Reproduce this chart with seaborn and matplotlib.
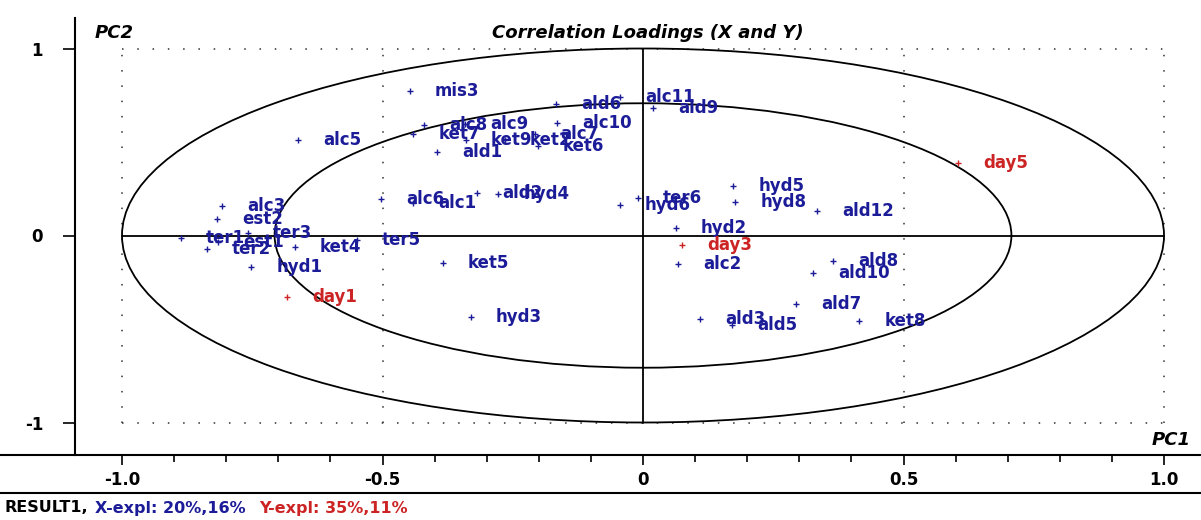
import matplotlib
matplotlib.use("Agg")
import matplotlib.pyplot as plt
from matplotlib.patches import Ellipse
from matplotlib.lines import Line2D
from matplotlib.ticker import FixedLocator, MultipleLocator
import numpy as np
import pandas as pd
import seaborn as sns

# Correlation loadings on PC1 / PC2
names = ["mis3", "alc5", "ket7", "alc8", "alc9", "ald1", "ket9", "ket2", "alc7", "ket6",
         "ald6", "alc10", "alc11", "ald9", "alc6", "alc1", "ald2", "hyd4", "hyd6", "ter6",
         "hyd5", "hyd8", "ald12", "hyd2", "day3", "day5", "alc2", "ald8", "ald10", "ald7",
         "ket8", "ald3", "ald5", "ket5", "hyd3", "ter5", "ket4", "day1", "hyd1", "alc3",
         "est2", "ter1", "est1", "ter2", "ter3"]
pc1 = [-0.447, -0.662, -0.441, -0.420, -0.342, -0.395, -0.340, -0.265, -0.207, -0.202,
       -0.167, -0.165, -0.044, 0.019, -0.503, -0.441, -0.319, -0.278, -0.044, -0.010,
       0.173, 0.177, 0.334, 0.063, 0.075, 0.605, 0.067, 0.365, 0.326, 0.294,
       0.415, 0.109, 0.171, -0.384, -0.330, -0.549, -0.668, -0.683, -0.752, -0.808,
       -0.818, -0.887, -0.816, -0.837, -0.758]
pc2 = [0.773, 0.511, 0.543, 0.591, 0.596, 0.447, 0.511, 0.511, 0.543, 0.479,
       0.703, 0.602, 0.741, 0.682, 0.195, 0.174, 0.227, 0.222, 0.163, 0.200,
       0.265, 0.179, 0.131, 0.040, -0.051, 0.388, -0.152, -0.136, -0.201, -0.366,
       -0.457, -0.447, -0.479, -0.147, -0.436, -0.024, -0.061, -0.329, -0.168, 0.158,
       0.088, -0.013, -0.035, -0.072, 0.013]
y_vars = ["day1", "day3", "day5"]

x_ticks = [-1.0, -0.5, 0.0, 0.5, 1.0]
x_tick_labels = ["-1.0", "-0.5", "0", "0.5", "1.0"]
y_ticks = [-1, 0, 1]
y_tick_labels = ["-1", "0", "1"]

footer_parts = ["RESULT1,", "X-expl: 20%,16%", "Y-expl: 35%,11%"]

df = pd.DataFrame({"name": names, "PC1": pc1, "PC2": pc2})
df["block"] = np.where(df["name"].isin(y_vars), "Y", "X")

BLUE = "#1c1c98"
RED = "#cc2424"
palette = {"X": BLUE, "Y": RED}

sns.set_theme(style="white")
plt.rcParams["font.family"] = ["DejaVu Sans"]

W, H = 1201, 520
fig = plt.figure(figsize=(W / 100, H / 100), dpi=100)
fig.patch.set_facecolor("white")

left, right, top, bottom = 75, 1201, 18, 455
ax = fig.add_axes([left / W, 1 - bottom / H, (right - left) / W, (bottom - top) / H])
ax.set_facecolor("white")

# pixel-matched data ranges
x0, sx = 643.0, 521.0
y0, sy = 235.5, 187.0
ax.set_xlim((left - x0) / sx, (right - x0) / sx)
ax.set_ylim((y0 - bottom) / sy, (y0 - top) / sy)

# dotted frame and grid
dot = dict(color="#303030", lw=1.1, linestyle=(0, (1, 9)), zorder=1)
for gx in [-1.0, -0.5, 0.5, 1.0]:
    ax.plot([gx, gx], [-1, 1], **dot)
for gy in [-1.0, 1.0]:
    ax.plot([-1, 1], [gy, gy], **dot)

# solid axes through origin
ax.plot([-1, 1], [0, 0], color="black", lw=1.3, zorder=2)
ax.plot([0, 0], [-1, 1], color="black", lw=1.3, zorder=2)

# 100% and 50% explained variance ellipses
for r in [1.0, np.sqrt(0.5)]:
    ax.add_patch(Ellipse((0, 0), 2 * r, 2 * r, fill=False, ec="black", lw=1.3, zorder=2))

sns.scatterplot(data=df, x="PC1", y="PC2", hue="block", palette=palette, marker="+",
                s=20, linewidth=1.0, legend=False, ax=ax, zorder=3)

for _, row in df.iterrows():
    ax.annotate(row["name"], (row["PC1"], row["PC2"]), xytext=(18, 0),
                textcoords="offset points", ha="left", va="center",
                fontsize=12, fontweight="bold", color=palette[row["block"]], zorder=4)

# axes styling
for s in ["top", "right", "bottom"]:
    ax.spines[s].set_visible(False)
ax.spines["left"].set_color("black")
ax.spines["left"].set_linewidth(1.5)
ax.set_xlabel("")
ax.set_ylabel("")
ax.xaxis.set_major_locator(FixedLocator(x_ticks))
ax.set_xticklabels(x_tick_labels)
ax.xaxis.set_minor_locator(MultipleLocator(0.1))
ax.yaxis.set_major_locator(FixedLocator(y_ticks))
ax.set_yticklabels(y_tick_labels)
ax.tick_params(axis="x", which="major", direction="out", length=7.5, width=1.2,
               pad=4, labelsize=12, bottom=True, colors="black")
ax.tick_params(axis="x", which="minor", direction="out", length=5, width=1.2, bottom=True,
               colors="black")
ax.tick_params(axis="y", which="major", direction="out", length=9, width=1.2,
               pad=14, labelsize=12, left=True, colors="black")
for lbl in ax.get_xticklabels() + ax.get_yticklabels():
    lbl.set_fontweight("bold")
ax.grid(False)

# titles inside the frame
ax.text((648 - x0) / sx, (y0 - 33) / sy, "Correlation Loadings (X and Y)",
        ha="center", va="center", fontsize=13, fontweight="bold", fontstyle="italic",
        color="black")
fig.text(95 / W, 1 - 33 / H, "PC2", ha="left", va="center", fontsize=13,
         fontweight="bold", fontstyle="italic", color="black")
fig.text(1191 / W, 1 - 440 / H, "PC1", ha="right", va="center", fontsize=13,
         fontweight="bold", fontstyle="italic", color="black")

# full-width axis rule and footer separator
fig.add_artist(Line2D([0, 1], [1 - bottom / H, 1 - bottom / H], color="black", lw=1.5))
fig.add_artist(Line2D([0, 1], [1 - 493 / H, 1 - 493 / H], color="black", lw=1.5))

# footer, laid out piece by piece
fy = 1 - 508 / H
renderer = fig.canvas.get_renderer()
xpos = 5.0
gaps = [6.0, 14.0, 0.0]
for txt, col, gap in zip(footer_parts, ["black", BLUE, RED], gaps):
    t = fig.text(xpos / W, fy, txt, ha="left", va="center", fontsize=11.5,
                 fontweight="bold", color=col)
    bb = t.get_window_extent(renderer=renderer)
    xpos += bb.width + gap

fig.savefig("out.png", dpi=100, facecolor="white")
